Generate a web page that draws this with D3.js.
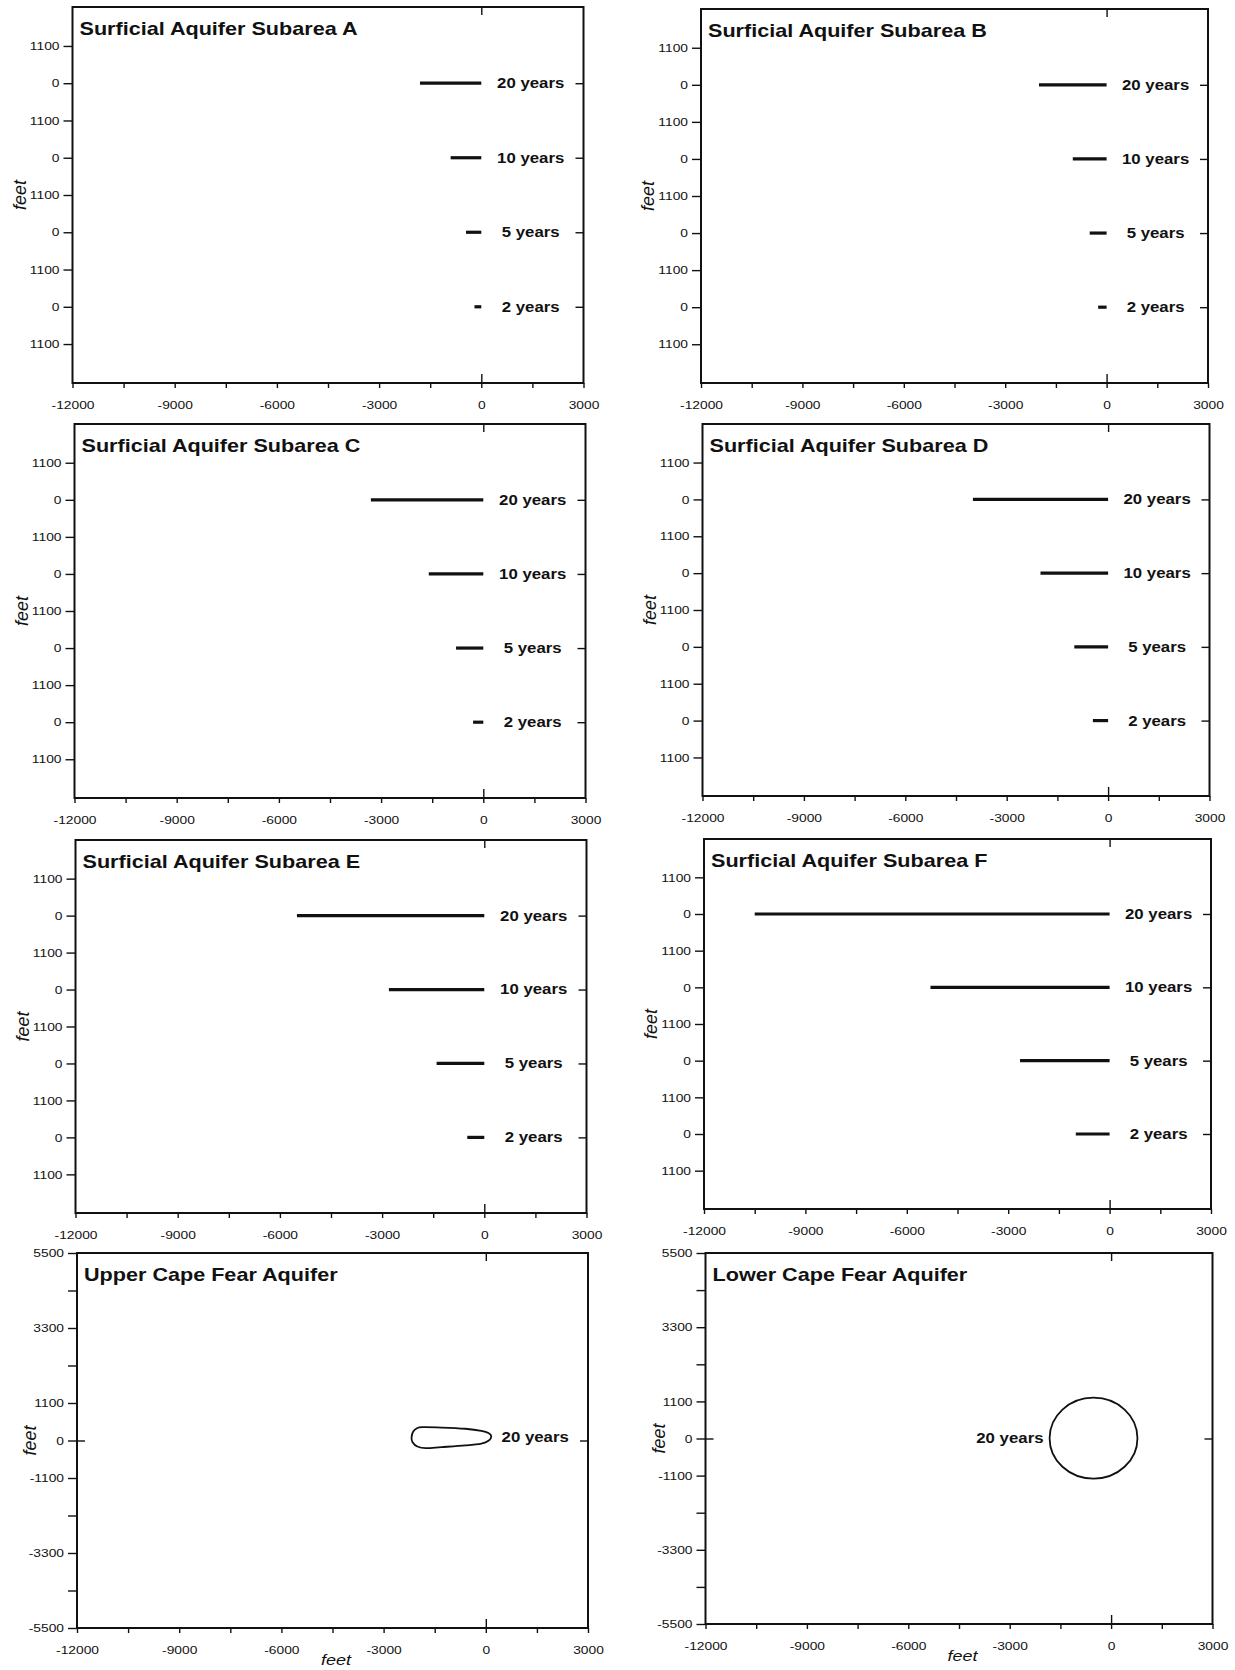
<!DOCTYPE html>
<html>
<head>
<meta charset="utf-8">
<script src="https://cdn.jsdelivr.net/npm/d3@7"></script>
<style>
  body { margin: 0; background: #fff; }
  svg { display: block; }
</style>
</head>
<body>
<script>
// travel times, one row per time in the surficial panels
var years = ["20 years", "10 years", "5 years", "2 years"];
var rowOffset = [6600, 4400, 2200, 0];

// upgradient length of each capture zone (feet), 20/10/5/2 years
var zoneA = [-1800, -900, -450, -200];
var zoneB = [-2000, -1000, -500, -250];
var zoneC = [-3300, -1600, -800, -300];
var zoneD = [-4000, -2000, -1000, -450];
var zoneE = [-5500, -2800, -1400, -500];
var zoneF = [-10500, -5300, -2650, -1000];

// 20 year outline, Upper Cape Fear (x, y in feet)
var upperZone = [
  [-1870, 390], [-1300, 380], [-600, 345], [-130, 285], [90, 215], [160, 120],
  [90, 0], [-130, -90], [-600, -145], [-1300, -195], [-1760, -225], [-2010, -175],
  [-2150, -50], [-2180, 90], [-2130, 265], [-2010, 365]
];
// 20 year zone, Lower Cape Fear: centre x, centre y, radius x, radius y (feet)
var lowerZone = [-520, 10, 1300, 1200];

var xLabels = [-12000, -9000, -6000, -3000, 0, 3000];
var xTicks = [-12000, -10500, -9000, -7500, -6000, -4500, -3000, -1500, 0, 1500, 3000];
var stackTicks = [-1100, 0, 1100, 2200, 3300, 4400, 5500, 6600, 7700];
var stackLabels = ["1100", "0", "1100", "0", "1100", "0", "1100", "0", "1100"];
var capeTicks = [5500, 4400, 3300, 2200, 1100, 0, -1100, -2200, -3300, -4400, -5500];
var capeLabels = ["5500", "", "3300", "", "1100", "0", "-1100", "", "-3300", "", "-5500"];

var FONT = "Liberation Sans, Arial, Helvetica, sans-serif";
var SX = 1.2;   // the scanned lettering is a little wide
var INK = "#111";

// panel boxes [row][col]
var panelLeft = [[72.5, 701], [74.5, 702.5], [75.5, 704], [77, 705.5]];
var panelTop = [[7, 9], [424, 424], [840, 839], [1253, 1253]];
var panelH = [[376, 374], [374, 372], [373, 370], [375, 371]];
var panelW = [511, 507];

var svg = d3.select("body").append("svg")
  .attr("width", 1235)
  .attr("height", 1670)
  .style("background", "#fff");

// move x/y into a transform so the glyphs can be widened
function widen(sel) {
  sel.each(function() {
    var t = d3.select(this);
    var x = +t.attr("x") || 0, y = +t.attr("y") || 0;
    t.attr("transform", "translate(" + x + "," + y + ") scale(" + SX + ",1)")
      .attr("x", 0).attr("y", 0);
  });
}

function tidy(sel) {
  sel.select(".domain").remove();
  sel.attr("font-family", FONT).attr("font-size", 11.5);
  sel.selectAll("line").attr("stroke", INK).attr("stroke-width", 1.4);
  sel.selectAll("text").attr("fill", INK).call(widen);
}

function label(g, x, y, txt, size, weight, anchor) {
  return g.append("text")
    .attr("x", x)
    .attr("y", y)
    .attr("dy", "0.35em")
    .attr("text-anchor", anchor)
    .attr("font-family", FONT)
    .attr("font-size", size)
    .attr("font-weight", weight)
    .attr("fill", INK)
    .text(txt)
    .call(widen);
}

function makePanel(col, row, title, yDomain, yTicks, yLabels, featX) {
  var W = panelW[col], H = panelH[row][col];
  var g = svg.append("g")
    .attr("transform", "translate(" + panelLeft[row][col] + "," + panelTop[row][col] + ")");

  var x = d3.scaleLinear().domain([-12000, 3000]).range([0, W]);
  var y = d3.scaleLinear().domain(yDomain).range([H, 0]);

  // bottom axis, labels every 3000
  g.append("g")
    .attr("transform", "translate(0," + H + ")")
    .call(d3.axisBottom(x).tickValues(xTicks).tickSize(5).tickSizeOuter(0).tickPadding(13)
      .tickFormat(function(d) { return xLabels.indexOf(d) >= 0 ? String(d) : ""; }))
    .call(tidy);

  // left axis
  g.append("g")
    .call(d3.axisLeft(y).tickValues(yTicks).tickSize(9).tickSizeOuter(0).tickPadding(4)
      .tickFormat(function(d, i) { return yLabels[i]; }))
    .call(tidy);

  // inward ticks at x = 0, top and bottom
  g.append("g")
    .call(d3.axisBottom(x).tickValues([0]).tickSize(8).tickSizeOuter(0).tickFormat(""))
    .call(tidy);
  g.append("g")
    .attr("transform", "translate(0," + H + ")")
    .call(d3.axisTop(x).tickValues([0]).tickSize(9).tickSizeOuter(0).tickFormat(""))
    .call(tidy);

  g.append("rect")
    .attr("width", W)
    .attr("height", H)
    .attr("fill", "none")
    .attr("stroke", INK)
    .attr("stroke-width", 2);

  g.append("text")
    .attr("x", 7)
    .attr("y", 28)
    .attr("font-family", FONT)
    .attr("font-size", 18)
    .attr("font-weight", "bold")
    .attr("fill", INK)
    .text(title)
    .call(widen);

  g.append("text")
    .attr("transform", "translate(" + featX + "," + (H / 2) + ") rotate(-90)")
    .attr("dy", "0.35em")
    .attr("text-anchor", "middle")
    .attr("font-family", FONT)
    .attr("font-size", 18)
    .attr("font-style", "italic")
    .attr("fill", INK)
    .text("feet");

  return { g: g, x: x, y: y, W: W, H: H };
}

function surficial(col, row, letter, zone) {
  var p = makePanel(col, row, "Surficial Aquifer Subarea " + letter,
    [-2250, 8850], stackTicks, stackLabels, -53);

  // inward ticks on the right at each row
  p.g.append("g")
    .attr("transform", "translate(" + p.W + ",0)")
    .call(d3.axisLeft(p.y).tickValues(rowOffset).tickSize(8).tickSizeOuter(0).tickFormat(""))
    .call(tidy);

  p.g.selectAll(".zone")
    .data(zone)
    .enter()
      .append("line")
        .attr("class", "zone")
        .attr("x1", function(d) { return p.x(d); })
        .attr("x2", p.x(0))
        .attr("y1", function(d, i) { return p.y(rowOffset[i]); })
        .attr("y2", function(d, i) { return p.y(rowOffset[i]); })
        .attr("stroke", INK)
        .attr("stroke-width", 3.2);

  years.forEach(function(d, i) {
    label(p.g, p.x(1450), p.y(rowOffset[i]), d, 14, "bold", "middle");
  });
}

function capeFear(col, title) {
  var p = makePanel(col, 3, title, [-5500, 5500], capeTicks, capeLabels, -47);

  // short inward ticks at y = 0 on both sides
  p.g.append("g")
    .call(d3.axisRight(p.y).tickValues([0]).tickSize(8).tickSizeOuter(0).tickFormat(""))
    .call(tidy);
  p.g.append("g")
    .attr("transform", "translate(" + p.W + ",0)")
    .call(d3.axisLeft(p.y).tickValues([0]).tickSize(8).tickSizeOuter(0).tickFormat(""))
    .call(tidy);

  p.g.append("text")
    .attr("x", p.x(-4400))
    .attr("y", p.H + 37)
    .attr("text-anchor", "middle")
    .attr("font-family", FONT)
    .attr("font-size", 15)
    .attr("font-style", "italic")
    .attr("fill", INK)
    .text("feet")
    .call(widen);

  return p;
}

surficial(0, 0, "A", zoneA);
surficial(1, 0, "B", zoneB);
surficial(0, 1, "C", zoneC);
surficial(1, 1, "D", zoneD);
surficial(0, 2, "E", zoneE);
surficial(1, 2, "F", zoneF);

var upper = capeFear(0, "Upper Cape Fear Aquifer");
upper.g.append("path")
  .datum(upperZone)
  .attr("d", d3.line()
    .x(function(d) { return upper.x(d[0]); })
    .y(function(d) { return upper.y(d[1]); })
    .curve(d3.curveCardinalClosed))
  .attr("fill", "none")
  .attr("stroke", INK)
  .attr("stroke-width", 1.8);
label(upper.g, upper.x(1450), upper.y(100), "20 years", 14, "bold", "middle");

var lower = capeFear(1, "Lower Cape Fear Aquifer");
lower.g.append("ellipse")
  .attr("cx", lower.x(lowerZone[0]))
  .attr("cy", lower.y(lowerZone[1]))
  .attr("rx", lower.x(lowerZone[0] + lowerZone[2]) - lower.x(lowerZone[0]))
  .attr("ry", lower.y(lowerZone[1]) - lower.y(lowerZone[1] + lowerZone[3]))
  .attr("fill", "none")
  .attr("stroke", INK)
  .attr("stroke-width", 1.8);
label(lower.g, lower.x(-2000), lower.y(0), "20 years", 14, "bold", "end");
</script>
</body>
</html>
